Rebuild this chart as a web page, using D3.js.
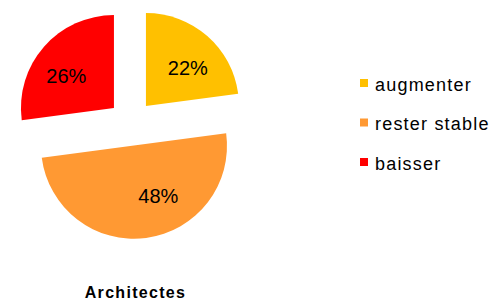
<!DOCTYPE html>
<html>
<head>
<meta charset="utf-8">
<script src="https://cdn.jsdelivr.net/npm/d3@7"></script>
<style>
  body { margin: 0; background: #fff; }
  svg { display: block; font-family: "Liberation Sans", Arial, sans-serif; }
</style>
</head>
<body>
<svg id="chart"></svg>
<script>
const categories = ['augmenter', 'rester stable', 'baisser'];
const values = [22, 48, 26];
const colors = ['#FFC000', '#FF9933', '#FF0000'];
const title = 'Architectes';

const width = 490;
const height = 305;
const cx = 131, cy = 123;
const radius = 93;
const explode = 22.7;

const svg = d3.select('#chart')
  .attr('width', width)
  .attr('height', height)
  .attr('viewBox', `0 0 ${width} ${height}`);

const entries = categories.map((c, i) => ({ name: c, value: values[i], color: colors[i] }));

const pie = d3.pie().sort(null).value(d => d.value);
const arcs = pie(entries);

const arc = d3.arc().innerRadius(0).outerRadius(radius);
const labelArc = d3.arc().innerRadius(radius * 0.61).outerRadius(radius * 0.61);

// offset of each exploded slice along its mid angle
const shift = d => {
  const a = (d.startAngle + d.endAngle) / 2;
  return [explode * Math.sin(a), -explode * Math.cos(a)];
};

// small label nudges (excel "best fit" doesn't sit exactly on the centroid)
const labelNudge = [[4.5, 4.5], [17, -6], [-5, 5]];

const g = svg.append('g').attr('transform', `translate(${cx},${cy})`);

const slice = g.selectAll('.slice')
  .data(arcs)
  .join('g')
  .attr('class', 'slice')
  .attr('transform', d => `translate(${shift(d)})`);

slice.append('path')
  .attr('d', arc)
  .attr('fill', d => d.data.color);

slice.append('text')
  .attr('transform', (d, i) => {
    const [x, y] = labelArc.centroid(d);
    return `translate(${x + labelNudge[i][0]},${y + labelNudge[i][1]})`;
  })
  .attr('text-anchor', 'middle')
  .attr('dy', '0.36em')
  .attr('font-size', '20px')
  .attr('fill', '#000')
  .text(d => `${d.data.value}%`);

// Legend
const legend = svg.append('g').attr('transform', 'translate(360,83)');
const row = legend.selectAll('.row')
  .data(entries)
  .join('g')
  .attr('class', 'row')
  .attr('transform', (d, i) => `translate(0,${i * 39.5})`);

row.append('rect')
  .attr('x', 0).attr('y', -4)
  .attr('width', 8).attr('height', 8)
  .attr('fill', d => d.color);

row.append('text')
  .attr('x', 15).attr('y', 7.7)
  .attr('font-size', '18px')
  .attr('letter-spacing', '1.2px')
  .attr('fill', '#000')
  .text(d => d.name);

// Title
svg.append('text')
  .attr('x', 135.5)
  .attr('y', 298)
  .attr('text-anchor', 'middle')
  .attr('font-size', '16px')
  .attr('font-weight', 'bold')
  .attr('letter-spacing', '1.3px')
  .attr('fill', '#000')
  .text(title);
</script>
</body>
</html>
